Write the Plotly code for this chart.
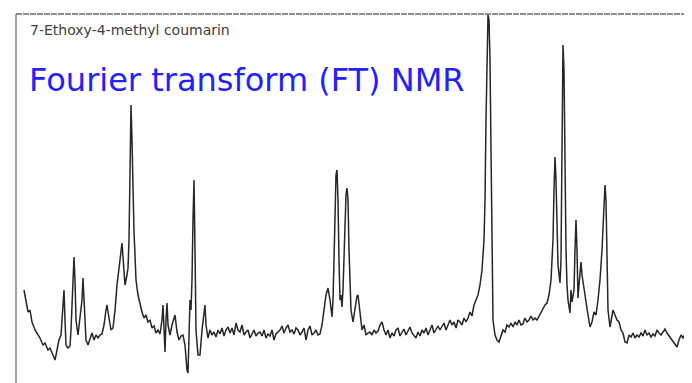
import plotly.graph_objects as go

# Scanned FT-NMR trace of 7-ethoxy-4-methyl coumarin.
# position: horizontal position along the spectrum (px-like units, 0..692)
# depth: vertical position of the trace measured from the top of the image (px-like units)
position = [24,26,28,30,32,35,38,40,43,45,48,50,53,55,57,59,61,62,64,65,66,68,70,71,72,74,75,76,78,80,82,83,84,86,88,90,92,94,96,98,100,102,104,106,107,109,111,113,115,117,118,120,122,124,125,127,128,129,130,131,132,133,134,135,136,138,140,142,144,146,148,150,152,154,156,158,160,162,163,164,165,166,167,168,170,172,174,175,177,179,181,183,185,187,188,189,190,191,192,193,194,195,196,198,200,202,204,205,206,208,210,212,214,216,218,220,222,224,226,228,230,232,234,236,238,240,242,244,246,248,250,252,254,256,258,260,262,264,266,268,270,272,274,276,278,280,282,284,286,288,290,292,294,296,298,300,302,304,306,308,310,312,314,316,318,320,322,324,326,328,330,332,333,334,335,336,337,338,339,340,341,342,343,344,345,346,347,348,349,350,351,353,355,357,358,360,362,364,366,368,370,372,374,376,378,380,382,384,386,388,390,392,394,396,398,400,402,404,406,408,410,412,414,416,418,420,422,424,426,428,430,432,434,436,438,440,442,444,446,448,450,452,454,456,458,460,462,464,466,468,470,472,474,476,478,480,482,484,485,486,487,488,489,490,491,492,493,495,497,499,501,503,505,507,509,511,513,515,517,519,521,523,525,527,529,531,533,535,537,539,541,543,545,547,549,551,553,554,555,556,557,558,560,561,562,563,564,565,566,567,568,570,571,572,574,575,576,577,578,579,580,581,582,584,586,588,590,592,594,596,598,600,602,604,605,606,607,608,610,611,613,615,617,619,621,623,625,627,629,631,633,635,637,639,641,643,645,647,649,651,653,655,657,659,661,663,665,667,669,671,673,675,677,679,681,683,685,687,689,691]
depth = [290,300,312,310,322,330,335,338,345,343,350,348,355,360,350,340,335,320,290,320,345,348,346,330,300,257,280,320,335,320,300,278,300,340,345,338,333,340,335,338,335,334,325,310,305,318,330,328,310,285,275,260,243,270,285,275,268,240,180,105,140,200,232,255,280,295,305,312,318,315,322,320,328,326,333,330,334,320,305,330,352,320,303,325,335,325,318,315,332,340,336,335,345,370,373,340,300,310,280,220,180,250,330,355,355,330,310,305,325,338,330,335,332,337,330,334,328,336,330,327,333,328,335,323,330,332,325,335,332,330,338,334,330,336,333,332,336,330,338,334,336,330,340,334,332,330,326,333,328,325,332,330,334,328,330,335,332,328,340,330,326,335,333,330,335,334,325,310,295,288,300,317,300,260,200,175,170,200,260,300,295,307,290,260,220,195,188,200,250,290,310,322,310,296,295,315,330,325,335,333,332,335,330,333,331,325,322,330,335,330,338,333,336,330,328,336,332,329,335,330,327,333,335,338,332,336,330,333,328,335,330,325,333,330,326,330,327,323,330,325,320,325,322,328,320,322,325,318,322,318,312,316,305,300,295,285,270,240,200,120,40,15,20,60,150,260,320,335,340,342,335,330,332,325,327,323,327,322,325,320,325,324,318,322,320,316,320,318,320,316,313,308,305,303,295,280,240,190,157,180,230,265,283,260,150,45,70,170,250,285,300,313,290,302,290,250,220,250,298,285,270,262,275,290,305,315,327,322,312,315,300,280,250,200,185,200,260,310,327,320,310,315,320,322,330,333,342,343,335,337,333,338,335,337,333,336,330,335,333,337,334,336,330,333,335,332,329,333,336,338,342,345,347,340,335,338,333,330,334,333]

compound_label = "7-Ethoxy-4-methyl coumarin"
method_label = "Fourier transform (FT) NMR"

# the page body has an 8 px margin, so the figure is 8 px smaller and the
# axis ranges start at 8 to keep a 1:1 mapping with the 692x383 window
PAGE_MARGIN = 8

fig = go.Figure()
fig.add_trace(go.Scatter(
    x=position, y=depth, mode="lines",
    line=dict(color="#262626", width=1.5),
    hoverinfo="skip", showlegend=False,
))

# frame of the scanned figure
fig.add_shape(type="line", xref="x", yref="y", x0=16, x1=692, y0=14, y1=14,
              line=dict(color="#6a6a6a", width=1.6, dash="6px,1px"))
fig.add_shape(type="line", xref="x", yref="y", x0=16, x1=16, y0=14, y1=383,
              line=dict(color="#8a8a8a", width=1.6))

fig.add_annotation(x=28, y=30, xref="x", yref="y", text=compound_label,
                   showarrow=False, xanchor="left", yanchor="middle",
                   font=dict(family="DejaVu Sans", size=14, color="#404040"))
fig.add_annotation(x=27, y=80, xref="x", yref="y", text=method_label,
                   showarrow=False, xanchor="left", yanchor="middle",
                   font=dict(family="DejaVu Sans", size=32, color="#2222ff"))

fig.update_layout(
    width=692 - PAGE_MARGIN, height=383 - PAGE_MARGIN,
    margin=dict(l=0, r=0, t=0, b=0),
    paper_bgcolor="white", plot_bgcolor="white",
    xaxis=dict(range=[PAGE_MARGIN, 692], visible=False, showgrid=False, zeroline=False),
    yaxis=dict(range=[383, PAGE_MARGIN], visible=False, showgrid=False, zeroline=False),
)

fig.write_html("out.html")
